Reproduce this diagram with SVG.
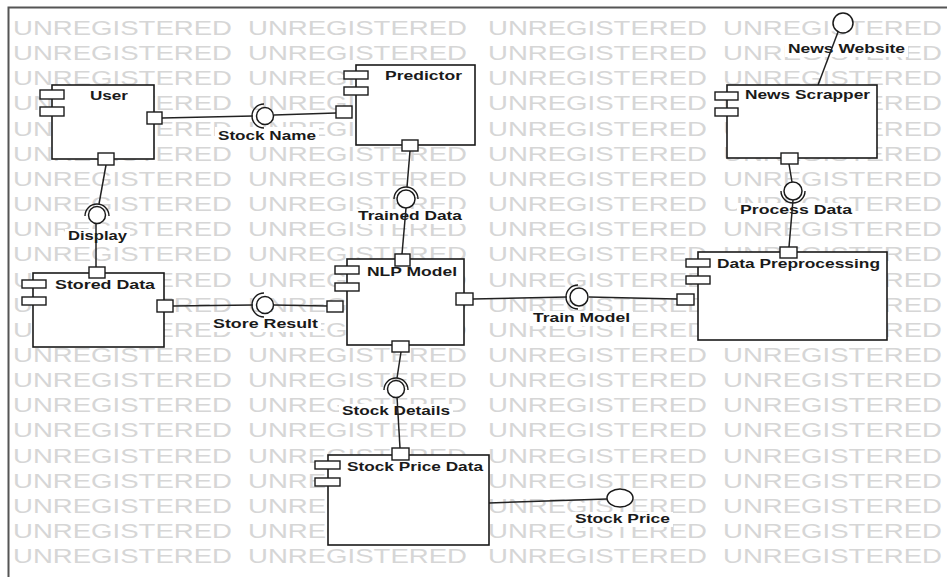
<svg xmlns="http://www.w3.org/2000/svg" width="947" height="577" viewBox="0 0 947 577">
<style>
.wm{font-family:"Liberation Sans",Arial,sans-serif;font-size:21px;fill:#d6d6d6}
.box{fill:#fff;stroke:#1a1a1a;stroke-width:1.6}
.ic{fill:#fff;stroke:#1a1a1a;stroke-width:1.4}
.port{fill:#fff;stroke:#1a1a1a;stroke-width:1.4}
.ln{fill:none;stroke:#222;stroke-width:1.5}
.ball{fill:#fff;stroke:#1a1a1a;stroke-width:1.5}
.sock{fill:none;stroke:#1a1a1a;stroke-width:1.4}
.bg{fill:#fff}
.lbl{font-family:"Liberation Sans",Arial,sans-serif;font-size:12.5px;font-weight:bold;fill:#1a1a1a}
</style>
<rect x="0" y="0" width="947" height="577" fill="#fff"/>
<g id="watermark">
<text class="wm" x="13" y="35" textLength="219" lengthAdjust="spacingAndGlyphs">UNREGISTERED</text><text class="wm" x="248" y="35" textLength="219" lengthAdjust="spacingAndGlyphs">UNREGISTERED</text><text class="wm" x="488" y="35" textLength="219" lengthAdjust="spacingAndGlyphs">UNREGISTERED</text><text class="wm" x="723" y="35" textLength="219" lengthAdjust="spacingAndGlyphs">UNREGISTERED</text>
<text class="wm" x="13" y="60" textLength="219" lengthAdjust="spacingAndGlyphs">UNREGISTERED</text><text class="wm" x="248" y="60" textLength="219" lengthAdjust="spacingAndGlyphs">UNREGISTERED</text><text class="wm" x="488" y="60" textLength="219" lengthAdjust="spacingAndGlyphs">UNREGISTERED</text><text class="wm" x="723" y="60" textLength="219" lengthAdjust="spacingAndGlyphs">UNREGISTERED</text>
<text class="wm" x="13" y="85" textLength="219" lengthAdjust="spacingAndGlyphs">UNREGISTERED</text><text class="wm" x="248" y="85" textLength="219" lengthAdjust="spacingAndGlyphs">UNREGISTERED</text><text class="wm" x="488" y="85" textLength="219" lengthAdjust="spacingAndGlyphs">UNREGISTERED</text><text class="wm" x="723" y="85" textLength="219" lengthAdjust="spacingAndGlyphs">UNREGISTERED</text>
<text class="wm" x="13" y="110" textLength="219" lengthAdjust="spacingAndGlyphs">UNREGISTERED</text><text class="wm" x="248" y="110" textLength="219" lengthAdjust="spacingAndGlyphs">UNREGISTERED</text><text class="wm" x="488" y="110" textLength="219" lengthAdjust="spacingAndGlyphs">UNREGISTERED</text><text class="wm" x="723" y="110" textLength="219" lengthAdjust="spacingAndGlyphs">UNREGISTERED</text>
<text class="wm" x="13" y="136" textLength="219" lengthAdjust="spacingAndGlyphs">UNREGISTERED</text><text class="wm" x="248" y="136" textLength="219" lengthAdjust="spacingAndGlyphs">UNREGISTERED</text><text class="wm" x="488" y="136" textLength="219" lengthAdjust="spacingAndGlyphs">UNREGISTERED</text><text class="wm" x="723" y="136" textLength="219" lengthAdjust="spacingAndGlyphs">UNREGISTERED</text>
<text class="wm" x="13" y="161" textLength="219" lengthAdjust="spacingAndGlyphs">UNREGISTERED</text><text class="wm" x="248" y="161" textLength="219" lengthAdjust="spacingAndGlyphs">UNREGISTERED</text><text class="wm" x="488" y="161" textLength="219" lengthAdjust="spacingAndGlyphs">UNREGISTERED</text><text class="wm" x="723" y="161" textLength="219" lengthAdjust="spacingAndGlyphs">UNREGISTERED</text>
<text class="wm" x="13" y="186" textLength="219" lengthAdjust="spacingAndGlyphs">UNREGISTERED</text><text class="wm" x="248" y="186" textLength="219" lengthAdjust="spacingAndGlyphs">UNREGISTERED</text><text class="wm" x="488" y="186" textLength="219" lengthAdjust="spacingAndGlyphs">UNREGISTERED</text><text class="wm" x="723" y="186" textLength="219" lengthAdjust="spacingAndGlyphs">UNREGISTERED</text>
<text class="wm" x="13" y="211" textLength="219" lengthAdjust="spacingAndGlyphs">UNREGISTERED</text><text class="wm" x="248" y="211" textLength="219" lengthAdjust="spacingAndGlyphs">UNREGISTERED</text><text class="wm" x="488" y="211" textLength="219" lengthAdjust="spacingAndGlyphs">UNREGISTERED</text><text class="wm" x="723" y="211" textLength="219" lengthAdjust="spacingAndGlyphs">UNREGISTERED</text>
<text class="wm" x="13" y="236" textLength="219" lengthAdjust="spacingAndGlyphs">UNREGISTERED</text><text class="wm" x="248" y="236" textLength="219" lengthAdjust="spacingAndGlyphs">UNREGISTERED</text><text class="wm" x="488" y="236" textLength="219" lengthAdjust="spacingAndGlyphs">UNREGISTERED</text><text class="wm" x="723" y="236" textLength="219" lengthAdjust="spacingAndGlyphs">UNREGISTERED</text>
<text class="wm" x="13" y="261" textLength="219" lengthAdjust="spacingAndGlyphs">UNREGISTERED</text><text class="wm" x="248" y="261" textLength="219" lengthAdjust="spacingAndGlyphs">UNREGISTERED</text><text class="wm" x="488" y="261" textLength="219" lengthAdjust="spacingAndGlyphs">UNREGISTERED</text><text class="wm" x="723" y="261" textLength="219" lengthAdjust="spacingAndGlyphs">UNREGISTERED</text>
<text class="wm" x="13" y="287" textLength="219" lengthAdjust="spacingAndGlyphs">UNREGISTERED</text><text class="wm" x="248" y="287" textLength="219" lengthAdjust="spacingAndGlyphs">UNREGISTERED</text><text class="wm" x="488" y="287" textLength="219" lengthAdjust="spacingAndGlyphs">UNREGISTERED</text><text class="wm" x="723" y="287" textLength="219" lengthAdjust="spacingAndGlyphs">UNREGISTERED</text>
<text class="wm" x="13" y="312" textLength="219" lengthAdjust="spacingAndGlyphs">UNREGISTERED</text><text class="wm" x="248" y="312" textLength="219" lengthAdjust="spacingAndGlyphs">UNREGISTERED</text><text class="wm" x="488" y="312" textLength="219" lengthAdjust="spacingAndGlyphs">UNREGISTERED</text><text class="wm" x="723" y="312" textLength="219" lengthAdjust="spacingAndGlyphs">UNREGISTERED</text>
<text class="wm" x="13" y="337" textLength="219" lengthAdjust="spacingAndGlyphs">UNREGISTERED</text><text class="wm" x="248" y="337" textLength="219" lengthAdjust="spacingAndGlyphs">UNREGISTERED</text><text class="wm" x="488" y="337" textLength="219" lengthAdjust="spacingAndGlyphs">UNREGISTERED</text><text class="wm" x="723" y="337" textLength="219" lengthAdjust="spacingAndGlyphs">UNREGISTERED</text>
<text class="wm" x="13" y="362" textLength="219" lengthAdjust="spacingAndGlyphs">UNREGISTERED</text><text class="wm" x="248" y="362" textLength="219" lengthAdjust="spacingAndGlyphs">UNREGISTERED</text><text class="wm" x="488" y="362" textLength="219" lengthAdjust="spacingAndGlyphs">UNREGISTERED</text><text class="wm" x="723" y="362" textLength="219" lengthAdjust="spacingAndGlyphs">UNREGISTERED</text>
<text class="wm" x="13" y="387" textLength="219" lengthAdjust="spacingAndGlyphs">UNREGISTERED</text><text class="wm" x="248" y="387" textLength="219" lengthAdjust="spacingAndGlyphs">UNREGISTERED</text><text class="wm" x="488" y="387" textLength="219" lengthAdjust="spacingAndGlyphs">UNREGISTERED</text><text class="wm" x="723" y="387" textLength="219" lengthAdjust="spacingAndGlyphs">UNREGISTERED</text>
<text class="wm" x="13" y="412" textLength="219" lengthAdjust="spacingAndGlyphs">UNREGISTERED</text><text class="wm" x="248" y="412" textLength="219" lengthAdjust="spacingAndGlyphs">UNREGISTERED</text><text class="wm" x="488" y="412" textLength="219" lengthAdjust="spacingAndGlyphs">UNREGISTERED</text><text class="wm" x="723" y="412" textLength="219" lengthAdjust="spacingAndGlyphs">UNREGISTERED</text>
<text class="wm" x="13" y="437" textLength="219" lengthAdjust="spacingAndGlyphs">UNREGISTERED</text><text class="wm" x="248" y="437" textLength="219" lengthAdjust="spacingAndGlyphs">UNREGISTERED</text><text class="wm" x="488" y="437" textLength="219" lengthAdjust="spacingAndGlyphs">UNREGISTERED</text><text class="wm" x="723" y="437" textLength="219" lengthAdjust="spacingAndGlyphs">UNREGISTERED</text>
<text class="wm" x="13" y="463" textLength="219" lengthAdjust="spacingAndGlyphs">UNREGISTERED</text><text class="wm" x="248" y="463" textLength="219" lengthAdjust="spacingAndGlyphs">UNREGISTERED</text><text class="wm" x="488" y="463" textLength="219" lengthAdjust="spacingAndGlyphs">UNREGISTERED</text><text class="wm" x="723" y="463" textLength="219" lengthAdjust="spacingAndGlyphs">UNREGISTERED</text>
<text class="wm" x="13" y="488" textLength="219" lengthAdjust="spacingAndGlyphs">UNREGISTERED</text><text class="wm" x="248" y="488" textLength="219" lengthAdjust="spacingAndGlyphs">UNREGISTERED</text><text class="wm" x="488" y="488" textLength="219" lengthAdjust="spacingAndGlyphs">UNREGISTERED</text><text class="wm" x="723" y="488" textLength="219" lengthAdjust="spacingAndGlyphs">UNREGISTERED</text>
<text class="wm" x="13" y="513" textLength="219" lengthAdjust="spacingAndGlyphs">UNREGISTERED</text><text class="wm" x="248" y="513" textLength="219" lengthAdjust="spacingAndGlyphs">UNREGISTERED</text><text class="wm" x="488" y="513" textLength="219" lengthAdjust="spacingAndGlyphs">UNREGISTERED</text><text class="wm" x="723" y="513" textLength="219" lengthAdjust="spacingAndGlyphs">UNREGISTERED</text>
<text class="wm" x="13" y="538" textLength="219" lengthAdjust="spacingAndGlyphs">UNREGISTERED</text><text class="wm" x="248" y="538" textLength="219" lengthAdjust="spacingAndGlyphs">UNREGISTERED</text><text class="wm" x="488" y="538" textLength="219" lengthAdjust="spacingAndGlyphs">UNREGISTERED</text><text class="wm" x="723" y="538" textLength="219" lengthAdjust="spacingAndGlyphs">UNREGISTERED</text>
<text class="wm" x="13" y="563" textLength="219" lengthAdjust="spacingAndGlyphs">UNREGISTERED</text><text class="wm" x="248" y="563" textLength="219" lengthAdjust="spacingAndGlyphs">UNREGISTERED</text><text class="wm" x="488" y="563" textLength="219" lengthAdjust="spacingAndGlyphs">UNREGISTERED</text><text class="wm" x="723" y="563" textLength="219" lengthAdjust="spacingAndGlyphs">UNREGISTERED</text>
</g>
<path id="frame" d="M8.5 577 V7.5 H947" fill="none" stroke="#555" stroke-width="2"/>
<g id="if-stock-name">
<rect class="bg" x="215" y="127" width="104" height="16"/>
<path class="sock" d="M264 104 A12 12 0 0 0 264 128"/>
<circle class="ball" cx="265" cy="116" r="8.5"/>
<text class="lbl" x="218" y="140" textLength="98" lengthAdjust="spacingAndGlyphs">Stock Name</text>
</g>
<g id="if-trained-data">
<rect class="bg" x="355" y="209" width="110" height="15"/>
<path class="sock" d="M394 199 A12 12 0 0 1 418 199"/>
<circle class="ball" cx="406" cy="199" r="9"/>
<text class="lbl" x="358" y="220" textLength="104" lengthAdjust="spacingAndGlyphs">Trained Data</text>
</g>
<g id="if-display">
<rect class="bg" x="65" y="229" width="65" height="16"/>
<path class="sock" d="M85 216 A12 12 0 0 1 109 216"/>
<circle class="ball" cx="97" cy="215" r="8.5"/>
<text class="lbl" x="68" y="240" textLength="59" lengthAdjust="spacingAndGlyphs">Display</text>
</g>
<g id="if-store-result">
<rect class="bg" x="210" y="317" width="111" height="15"/>
<path class="sock" d="M264 293 A12 12 0 0 0 264 317"/>
<circle class="ball" cx="265" cy="305" r="8.5"/>
<text class="lbl" x="213" y="328" textLength="105" lengthAdjust="spacingAndGlyphs">Store Result</text>
</g>
<g id="if-train-model">
<rect class="bg" x="530" y="311" width="103" height="15"/>
<path class="sock" d="M578 285 A12 12 0 0 0 578 309"/>
<circle class="ball" cx="579" cy="297" r="9"/>
<text class="lbl" x="533" y="322" textLength="97" lengthAdjust="spacingAndGlyphs">Train Model</text>
</g>
<g id="if-news-website">
<rect class="bg" x="785" y="42" width="123" height="15"/>
<circle class="ball" cx="843" cy="23" r="10"/>
<text class="lbl" x="788" y="53" textLength="117" lengthAdjust="spacingAndGlyphs">News Website</text>
</g>
<g id="if-process-data">
<rect class="bg" x="737" y="203" width="118" height="15"/>
<path class="sock" d="M781 191 A12 12 0 0 0 805 191"/>
<circle class="ball" cx="793" cy="191" r="9"/>
<text class="lbl" x="740" y="214" textLength="112" lengthAdjust="spacingAndGlyphs">Process Data</text>
</g>
<g id="if-stock-details">
<rect class="bg" x="339" y="404" width="114" height="15"/>
<path class="sock" d="M384 390 A12 12 0 0 1 408 390"/>
<circle class="ball" cx="396" cy="389" r="8.5"/>
<text class="lbl" x="342" y="415" textLength="108" lengthAdjust="spacingAndGlyphs">Stock Details</text>
</g>
<g id="if-stock-price">
<rect class="bg" x="572" y="512" width="101" height="15"/>
<ellipse class="ball" cx="620" cy="498" rx="13" ry="9"/>
<text class="lbl" x="575" y="523" textLength="95" lengthAdjust="spacingAndGlyphs">Stock Price</text>
</g>
<g id="connectors">
<path class="ln" d="M162 118 L253 116"/>
<path class="ln" d="M274 115 L336 113"/>
<path class="ln" d="M410 151 L407 187"/>
<path class="ln" d="M406 208 L402 254"/>
<path class="ln" d="M106 165 L99 204"/>
<path class="ln" d="M96 224 L96 267"/>
<path class="ln" d="M173 306 L253 305"/>
<path class="ln" d="M274 305 L327 306"/>
<path class="ln" d="M473 299 L567 297"/>
<path class="ln" d="M589 297 L677 299"/>
<path class="ln" d="M838 32 L818 85"/>
<path class="ln" d="M789 164 L792 182"/>
<path class="ln" d="M793 200 L789 247"/>
<path class="ln" d="M401 352 L397 378"/>
<path class="ln" d="M397 397 L400 448"/>
<path class="ln" d="M489 503 L607 499"/>
</g>
<g id="node-user">
<rect class="box" x="52" y="85" width="102" height="74"/>
<rect class="ic" x="40" y="90" width="24" height="9"/>
<rect class="ic" x="40" y="107" width="24" height="9"/>
<rect class="port" x="147" y="112" width="15" height="12"/>
<rect class="port" x="98" y="153" width="16" height="12"/>
<text class="lbl" x="90" y="100" textLength="38" lengthAdjust="spacingAndGlyphs">User</text>
</g>
<g id="node-predictor">
<rect class="box" x="356" y="65" width="119" height="80"/>
<rect class="ic" x="344" y="71" width="24" height="8"/>
<rect class="ic" x="344" y="87" width="24" height="8"/>
<rect class="port" x="336" y="106" width="16" height="12"/>
<rect class="port" x="402" y="140" width="16" height="11"/>
<text class="lbl" x="385" y="80" textLength="77" lengthAdjust="spacingAndGlyphs">Predictor</text>
</g>
<g id="node-news-scrapper">
<rect class="box" x="727" y="85" width="150" height="73"/>
<rect class="ic" x="715" y="92" width="23" height="8"/>
<rect class="ic" x="715" y="108" width="23" height="8"/>
<rect class="port" x="781" y="153" width="17" height="11"/>
<text class="lbl" x="745" y="99" textLength="125" lengthAdjust="spacingAndGlyphs">News Scrapper</text>
</g>
<g id="node-stored-data">
<rect class="box" x="33" y="273" width="131" height="74"/>
<rect class="ic" x="22" y="280" width="24" height="8"/>
<rect class="ic" x="22" y="297" width="24" height="8"/>
<rect class="port" x="89" y="267" width="16" height="11"/>
<rect class="port" x="157" y="300" width="16" height="12"/>
<text class="lbl" x="55" y="289" textLength="100" lengthAdjust="spacingAndGlyphs">Stored Data</text>
</g>
<g id="node-nlp-model">
<rect class="box" x="347" y="259" width="117" height="86"/>
<rect class="ic" x="335" y="266" width="24" height="8"/>
<rect class="ic" x="335" y="283" width="24" height="8"/>
<rect class="port" x="395" y="254" width="15" height="12"/>
<rect class="port" x="327" y="301" width="16" height="11"/>
<rect class="port" x="456" y="293" width="17" height="12"/>
<rect class="port" x="392" y="341" width="17" height="11"/>
<text class="lbl" x="367" y="276" textLength="90" lengthAdjust="spacingAndGlyphs">NLP Model</text>
</g>
<g id="node-data-preprocessing">
<rect class="box" x="698" y="252" width="189" height="88"/>
<rect class="ic" x="686" y="259" width="24" height="8"/>
<rect class="ic" x="686" y="276" width="24" height="8"/>
<rect class="port" x="780" y="247" width="17" height="11"/>
<rect class="port" x="677" y="294" width="17" height="11"/>
<text class="lbl" x="717" y="268" textLength="163" lengthAdjust="spacingAndGlyphs">Data Preprocessing</text>
</g>
<g id="node-stock-price-data">
<rect class="box" x="328" y="455" width="161" height="90"/>
<rect class="ic" x="315" y="461" width="25" height="8"/>
<rect class="ic" x="315" y="478" width="25" height="8"/>
<rect class="port" x="392" y="448" width="17" height="12"/>
<text class="lbl" x="347" y="471" textLength="136" lengthAdjust="spacingAndGlyphs">Stock Price Data</text>
</g>
</svg>
